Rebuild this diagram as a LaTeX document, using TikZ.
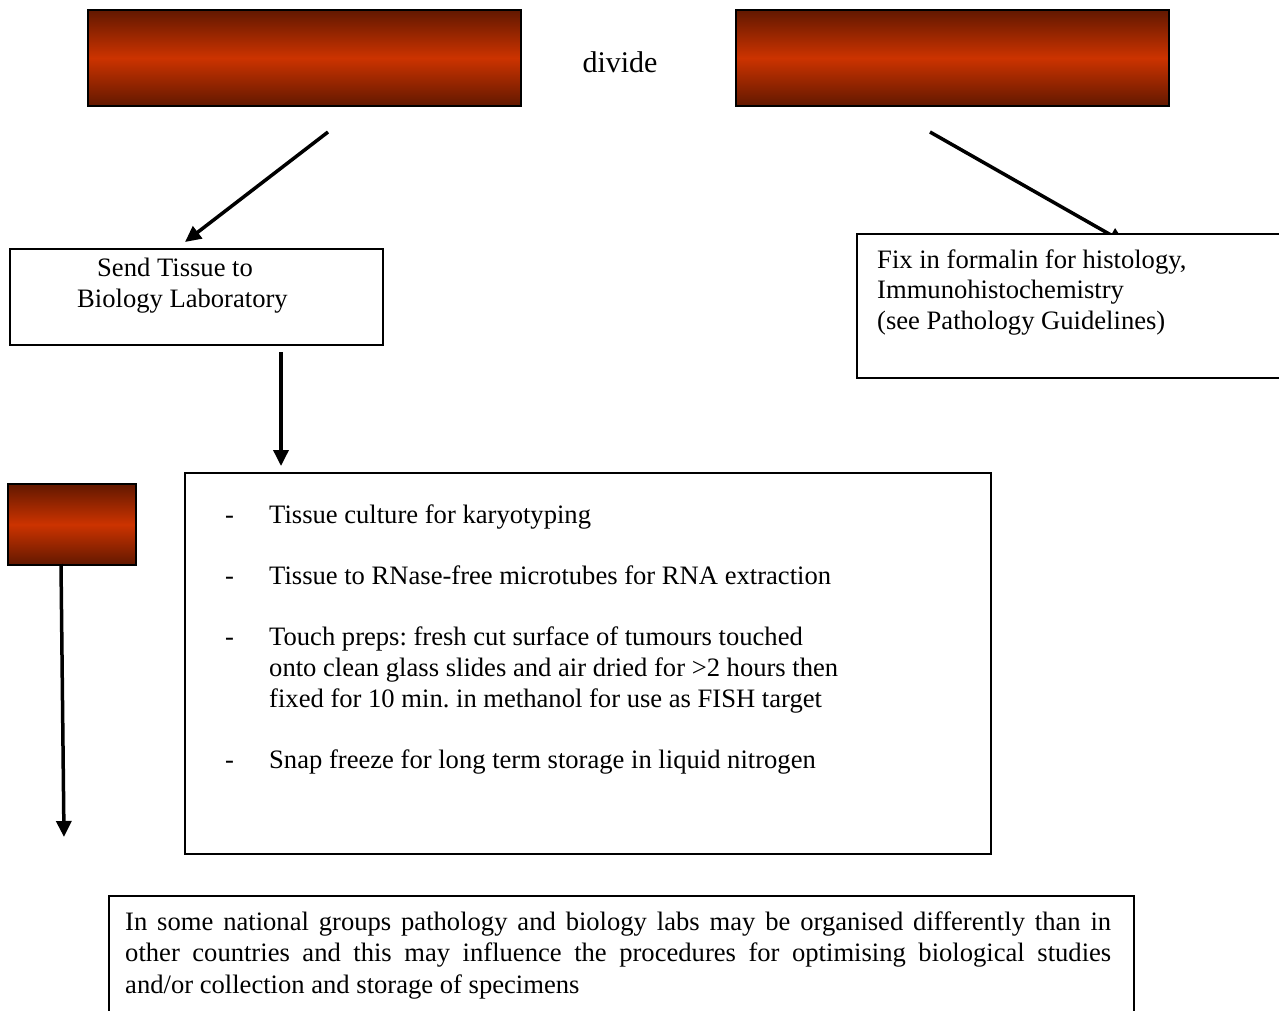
\documentclass[tikz,border=0pt]{standalone}
\usepackage{fontspec}
\setmainfont{Liberation Serif}
\usetikzlibrary{arrows.meta,backgrounds}
\definecolor{rdark}{RGB}{98,24,0}
\definecolor{rmid}{RGB}{204,51,0}
\frenchspacing
\tikzset{
  redbox/.style={rectangle, draw=black, line width=1.5pt, top color=rdark, bottom color=rdark, middle color=rmid, inner sep=0pt},
  outbox/.style={rectangle, draw=black, line width=1.6pt, fill=white, inner sep=0pt, anchor=north west},
  txt/.style={inner sep=0pt, anchor=base west, font=\fontsize{26.6}{31}\selectfont},
  arr/.style={line width=3.5pt, -{Triangle[length=16pt,width=15pt]}}
}
\begin{document}
\begin{tikzpicture}[x=1pt,y=-1pt]
\clip (0,0) rectangle (1279,1010);
\begin{scope}[on background layer]
\fill[white] (0,0) rectangle (1279,1010);
\end{scope}

% red boxes
\node[redbox, minimum width=433pt, minimum height=96pt] (r1) at (304.5,58) {};
\node[redbox, minimum width=433pt, minimum height=96pt] (r2) at (952.5,58) {};
\node[redbox, minimum width=128pt, minimum height=81pt] (r3) at (72,524.5) {};
\node[txt, anchor=base, font=\fontsize{30}{34}\selectfont] (dv) at (620,72) {divide};

% outline boxes
\node[outbox, minimum width=373pt, minimum height=96pt] (s) at (9,248) {};
\node[outbox, minimum width=460pt, minimum height=144pt] (f) at (856,233) {};
\node[outbox, minimum width=806pt, minimum height=381pt] (m) at (184,472) {};
\node[outbox, minimum width=1025pt, minimum height=200pt] (b) at (108,895) {};

% texts
\node[txt] (s1) at (97,276) {Send Tissue to};
\node[txt] (s2) at (77,307) {Biology Laboratory};

\node[txt] (f1) at (877,268) {Fix in formalin for histology,};
\node[txt] (f2) at (877,298.5) {Immunohistochemistry};
\node[txt] (f3) at (877,329) {(see Pathology Guidelines)};

\node[txt] (d1) at (225,523) {-};
\node[txt] (m1) at (269,523) {Tissue culture for karyotyping};
\node[txt] (d2) at (225,584) {-};
\node[txt] (m2) at (269,584) {Tissue to RNase-free microtubes for RNA extraction};
\node[txt] (d3) at (225,645) {-};
\node[txt] (m3a) at (269,645) {Touch preps: fresh cut surface of tumours touched};
\node[txt] (m3b) at (269,676) {onto clean glass slides and air dried for >2 hours then};
\node[txt] (m3c) at (269,707) {fixed for 10 min. in methanol for use as FISH target};
\node[txt] (d4) at (225,768) {-};
\node[txt] (m4) at (269,768) {Snap freeze for long term storage in liquid nitrogen};

\node[txt, anchor=north west, text width=986pt, align=justify, font=\fontsize{26.6}{31.5}\selectfont] (bt) at (125,911.5)
  {In some national groups pathology and biology labs may be organised differently than in\linebreak other countries and this may influence the procedures for optimising biological studies\linebreak and/or collection and storage of specimens};

% connectors
\coordinate (a1s) at (328,132);
\coordinate (a1e) at (185,242);
\draw[arr] (a1s) -- (a1e);

\coordinate (a2s) at (930,132);
\coordinate (a2e) at (1125,243);
\begin{scope}[on background layer]
\draw[arr] (a2s) -- (a2e);
\end{scope}

\coordinate (a3s) at (281,352);
\coordinate (a3e) at (281,466);
\draw[arr] (a3s) -- (a3e);

\coordinate (a4s) at (61,564);
\coordinate (a4e) at (64,837);
\draw[arr] (a4s) -- (a4e);
\end{tikzpicture}
\end{document}
